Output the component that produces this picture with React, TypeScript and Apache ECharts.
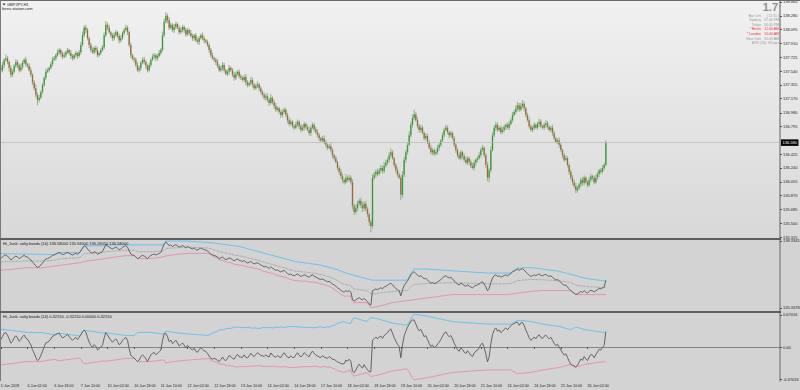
import React, { useEffect, useRef } from 'react';
import * as echarts from 'echarts';

const timeLabels = ["5 Jun 2019","6 Jun 02:00","6 Jun 18:00","7 Jun 10:00","10 Jun 02:00","10 Jun 18:00","11 Jun 10:00","12 Jun 02:00","12 Jun 18:00","13 Jun 10:00","14 Jun 02:00","14 Jun 18:00","17 Jun 10:00","18 Jun 02:00","18 Jun 18:00","19 Jun 10:00","20 Jun 02:00","20 Jun 18:00","21 Jun 10:00","24 Jun 02:00","24 Jun 18:00","25 Jun 10:00","26 Jun 02:00"];
const priceTickLabels = ["138.465","138.280","138.095","137.910","137.725","137.540","137.355","137.170","136.980","136.795","136.425","136.240","136.055","135.870","135.685","135.500","135.315"];
const pane2TickLabels = ["138.3341","135.3378"];
const pane3TickLabels = ["0.67016","0.00","-0.67016"];
const pane2Title = "Hi_Junk: volty bands (14) 136.58000 135.94000 136.26050 136.58000";
const pane3Title = "Hi_Junk: volty bands (14) 0.32150 -0.32150 0.00000 0.32150";
const infoRows = [["Bar Left","[ 11:15 ]"],["Sydney","07:40 PM"],["Tokyo","06:40 PM"],["* Berlin","11:40 AM"],["* London","10:40 AM"],["New York","05:40 AM"]];
const infoRed = [false,false,false,true,true,false];
const atrText = "ATR (20): 39 pips";
const spreadText = "1.7";
const totalSlots = 468;
const firstOpen = 137.58;

const closes = [
137.55,137.62,137.69,137.71,137.66,137.58,137.49,137.53,137.61,137.66,137.62,137.55,137.59,137.65,137.69,137.63,
137.61,137.55,137.49,137.39,137.31,137.22,137.15,137.18,137.26,137.35,137.45,137.53,137.55,137.58,137.63,137.69,
137.71,137.75,137.79,137.82,137.77,137.73,137.75,137.79,137.82,137.78,137.74,137.71,137.75,137.78,137.74,137.79,
137.89,138.02,138.12,138.09,137.98,137.89,137.82,137.79,137.85,137.82,137.75,137.78,137.82,137.86,138.02,138.16,
138.12,138.06,138.02,137.98,138.02,138.06,138.01,137.95,137.98,138.05,138.09,138.12,138.06,137.89,137.75,137.71,
137.69,137.62,137.55,137.58,137.65,137.69,137.66,137.61,137.55,137.62,137.69,137.73,137.75,137.71,137.74,137.78,
137.82,138.02,138.20,138.28,138.22,138.12,138.16,138.09,138.13,138.17,138.12,138.06,138.09,138.13,138.09,138.03,
138.09,138.05,138.01,137.98,138.02,137.95,137.93,137.98,138.02,137.98,137.95,137.93,137.89,137.82,137.75,137.71,
137.69,137.66,137.61,137.55,137.58,137.62,137.55,137.50,137.53,137.58,137.55,137.49,137.45,137.50,137.53,137.47,
137.45,137.42,137.46,137.39,137.35,137.38,137.42,137.36,137.31,137.34,137.36,137.31,137.26,137.22,137.18,137.20,
137.15,137.11,137.18,137.12,137.07,137.02,137.04,136.99,136.95,136.99,137.02,136.95,136.88,136.83,136.86,136.80,
136.78,136.82,136.86,136.80,136.75,136.78,136.83,136.79,136.75,136.71,136.78,136.82,136.76,136.72,136.68,136.64,
136.61,136.64,136.59,136.55,136.51,136.53,136.48,136.41,136.37,136.32,136.24,136.19,136.13,136.08,136.05,136.11,
136.08,136.11,136.05,135.73,135.65,135.70,135.76,135.80,135.74,135.70,135.76,135.69,135.62,135.52,135.46,136.11,
136.15,136.19,136.16,136.21,136.24,136.20,136.27,136.31,136.35,136.41,136.45,136.37,136.28,136.21,136.15,136.11,
135.88,136.15,136.35,136.45,136.55,136.68,136.82,136.91,136.96,136.88,136.80,136.75,136.78,136.71,136.64,136.67,
136.59,136.51,136.45,136.48,136.43,136.45,136.51,136.55,136.61,136.68,136.75,136.78,136.72,136.68,136.71,136.64,
136.55,136.48,136.41,136.37,136.45,136.40,136.35,136.31,136.37,136.32,136.27,136.24,136.31,136.35,136.37,136.41,
136.48,136.51,136.41,136.28,136.11,136.21,136.48,136.68,136.78,136.82,136.75,136.78,136.72,136.75,136.79,136.82,
136.78,136.83,136.88,136.95,136.99,137.04,137.08,137.02,137.07,137.10,137.04,136.95,136.88,136.80,136.75,136.78,
136.82,136.78,136.83,136.86,136.80,136.78,136.82,136.84,136.79,136.75,136.78,136.71,136.64,136.59,136.61,136.55,
136.48,136.41,136.35,136.37,136.28,136.19,136.11,136.05,136.00,135.94,135.97,136.02,136.08,136.04,136.11,136.05,
136.01,136.08,136.13,136.11,136.05,136.11,136.16,136.21,136.19,136.24,136.28,136.58
];

const wickUp = [
3,4,2,5,3,2,4,3,2,4,3,2,5,3,2,4,
2,3,4,2,3,5,3,4,2,3,2,4,3,2,3,4,
3,2,4,3,2,3,4,2,3,2,4,3,2,3,2,3,
4,5,3,4,3,2,3,4,2,3,4,2,3,3,4,5,
3,4,2,3,4,3,2,3,4,2,3,4,3,2,3,2,
2,3,4,3,2,3,4,3,2,3,2,4,3,2,3,4,
3,5,4,5,3,4,3,2,4,3,2,3,4,3,2,3,
3,2,4,3,2,3,4,3,2,4,3,2,3,2,3,4,
2,3,4,2,3,4,3,2,3,4,2,3,4,3,2,3,
3,2,3,4,3,2,4,3,2,3,4,2,3,2,3,4,
4,3,5,2,3,4,3,2,3,4,3,2,3,4,3,2,
3,4,3,2,3,4,3,2,3,4,3,3,2,3,4,3,
2,3,4,3,2,3,4,3,2,3,2,3,4,3,2,5,
3,4,3,4,3,5,4,3,4,5,3,4,3,2,3,5,
4,3,4,3,4,3,5,4,3,4,5,3,2,3,4,3,
3,5,4,3,4,5,4,5,6,3,4,3,4,3,2,4,
3,2,4,3,2,3,4,3,2,4,3,4,3,2,3,2,
3,2,3,4,3,2,3,4,3,2,3,4,3,2,3,4,
3,4,2,3,4,3,5,4,3,4,3,2,3,4,3,2,
3,4,3,4,3,4,5,3,4,5,3,2,3,4,3,2,
3,2,3,4,3,2,3,4,3,2,3,4,3,2,3,4,
3,2,3,4,3,2,3,4,3,4,3,2,3,4,3,2,
3,4,3,2,3,4,3,2,3,4,3,3
];

const wickDn = [
2,3,4,2,3,5,4,3,2,3,4,3,2,3,2,3,
3,2,3,4,3,4,7,3,2,3,2,3,2,3,2,3,
2,3,2,3,4,3,2,3,2,3,4,3,2,3,4,2,
3,2,3,4,3,4,3,2,3,4,3,2,3,2,3,2,
3,2,3,4,3,2,3,4,3,2,3,2,4,3,4,3,
4,3,2,3,4,2,3,4,3,2,3,2,3,4,3,2,
3,2,3,2,4,3,2,3,4,3,2,3,2,3,4,3,
2,3,2,4,3,2,3,4,2,3,4,2,3,4,3,2,
3,4,3,2,3,4,3,2,3,4,2,3,4,3,2,3,
3,2,3,4,3,2,3,4,3,2,3,4,3,2,3,4,
3,4,2,3,4,3,2,3,4,3,2,3,4,3,2,3,
3,2,3,4,3,2,4,3,2,3,4,2,3,2,3,4,
3,2,3,4,3,2,3,4,3,2,3,4,3,4,3,2,
3,2,3,5,4,3,4,3,4,5,4,3,4,5,8,3,
3,4,3,2,3,4,3,2,3,4,3,2,3,4,3,2,
7,4,3,4,3,2,3,4,3,2,3,4,3,2,3,2,
3,2,3,4,3,2,3,4,3,2,3,2,3,4,3,2,
3,4,3,2,3,4,3,2,3,4,3,2,3,4,3,2,
3,2,3,4,5,6,3,2,3,4,3,2,3,2,3,4,
2,3,2,3,2,3,4,3,2,3,4,3,2,3,2,3,
3,2,3,4,3,2,3,4,3,2,3,4,3,2,3,4,
3,4,3,2,3,4,3,4,3,4,3,2,3,4,3,2,
3,2,3,4,3,2,3,4,3,2,3,2
];

const upperBand = [
137.77,137.77,137.77,137.77,137.77,137.76,137.76,137.76,137.76,137.76,137.76,137.76,137.75,137.75,137.75,137.75,
137.75,137.75,137.75,137.75,137.74,137.74,137.74,137.74,137.74,137.74,137.74,137.73,137.73,137.73,137.73,137.73,
137.73,137.75,137.79,137.82,137.82,137.82,137.82,137.82,137.82,137.82,137.82,137.82,137.82,137.82,137.82,137.82,
137.89,138.02,138.12,138.12,138.12,138.12,138.12,138.12,138.12,138.12,138.12,138.12,138.12,138.12,138.12,138.16,
138.16,138.16,138.16,138.16,138.16,138.16,138.16,138.16,138.16,138.16,138.16,138.16,138.16,138.16,138.16,138.16,
138.16,138.16,138.16,138.16,138.16,138.16,138.16,138.16,138.16,138.16,138.16,138.16,138.16,138.16,138.16,138.16,
138.16,138.16,138.20,138.33,138.33,138.33,138.33,138.33,138.33,138.33,138.33,138.33,138.33,138.33,138.33,138.33,
138.33,138.32,138.32,138.31,138.31,138.30,138.30,138.29,138.29,138.28,138.28,138.27,138.27,138.26,138.26,138.25,
138.24,138.23,138.22,138.21,138.20,138.19,138.18,138.17,138.16,138.15,138.14,138.13,138.12,138.11,138.10,138.09,
138.07,138.05,138.03,138.01,137.99,137.97,137.95,137.93,137.91,137.89,137.87,137.85,137.83,137.81,137.79,137.77,
137.75,137.73,137.71,137.69,137.67,137.65,137.63,137.61,137.59,137.57,137.55,137.53,137.51,137.49,137.47,137.45,
137.43,137.41,137.40,137.39,137.38,137.37,137.36,137.35,137.34,137.33,137.32,137.31,137.30,137.29,137.28,137.27,
137.25,137.23,137.21,137.19,137.17,137.15,137.13,137.11,137.09,137.07,137.05,137.02,136.99,136.96,136.93,136.90,
136.88,136.86,136.84,136.82,136.80,136.78,136.76,136.74,136.72,136.70,136.68,136.66,136.64,136.62,136.60,136.58,
136.58,136.58,136.58,136.58,136.58,136.58,136.58,136.58,136.58,136.58,136.58,136.58,136.58,136.58,136.58,136.58,
136.58,136.58,136.58,136.58,136.60,136.73,136.87,136.99,137.08,137.08,137.08,137.08,137.08,137.08,137.08,137.08,
137.08,137.07,137.07,137.06,137.06,137.05,137.05,137.04,137.04,137.03,137.03,137.02,137.02,137.01,137.01,137.00,
137.00,136.99,136.99,136.98,136.98,136.97,136.97,136.96,136.96,136.95,136.95,136.94,136.94,136.93,136.93,136.92,
136.92,136.92,136.91,136.91,136.90,136.90,136.90,136.90,136.90,136.90,136.90,136.90,136.90,136.90,136.90,136.90,
136.90,136.90,136.91,136.98,137.02,137.07,137.12,137.12,137.12,137.14,137.14,137.14,137.14,137.14,137.14,137.14,
137.13,137.12,137.11,137.10,137.09,137.08,137.07,137.06,137.05,137.04,137.03,137.02,137.01,137.00,136.99,136.98,
136.96,136.94,136.92,136.90,136.88,136.86,136.84,136.82,136.80,136.78,136.76,136.74,136.72,136.70,136.68,136.66,
136.65,136.64,136.63,136.62,136.61,136.60,136.59,136.58,136.57,136.56,136.55,136.58
];

const lowerBand = [
137.02,137.03,137.04,137.05,137.06,137.06,137.06,137.07,137.08,137.09,137.10,137.10,137.11,137.12,137.13,137.14,
137.14,137.14,137.14,137.14,137.14,137.14,137.13,137.13,137.13,137.14,137.15,137.16,137.17,137.18,137.19,137.20,
137.21,137.22,137.23,137.24,137.25,137.26,137.27,137.28,137.29,137.30,137.31,137.32,137.33,137.34,137.35,137.36,
137.37,137.39,137.41,137.43,137.44,137.45,137.46,137.47,137.48,137.49,137.50,137.51,137.52,137.53,137.54,137.56,
137.57,137.58,137.59,137.60,137.61,137.62,137.63,137.64,137.65,137.66,137.67,137.68,137.68,137.68,137.68,137.68,
137.68,137.62,137.55,137.55,137.55,137.55,137.55,137.55,137.55,137.55,137.55,137.56,137.57,137.58,137.59,137.60,
137.61,137.62,137.64,137.66,137.68,137.69,137.70,137.71,137.72,137.73,137.74,137.75,137.75,137.76,137.77,137.77,
137.78,137.78,137.78,137.78,137.78,137.78,137.78,137.78,137.78,137.78,137.78,137.78,137.78,137.76,137.72,137.67,
137.62,137.60,137.56,137.50,137.48,137.47,137.45,137.40,137.38,137.37,137.36,137.33,137.29,137.28,137.27,137.26,
137.25,137.23,137.22,137.20,137.17,137.16,137.15,137.14,137.11,137.10,137.09,137.07,137.04,137.00,136.97,136.96,
136.94,136.91,136.90,136.89,136.86,136.82,136.81,136.78,136.75,136.74,136.73,136.71,136.67,136.63,136.62,136.59,
136.57,136.56,136.56,136.55,136.54,136.54,136.54,136.53,136.52,136.50,136.50,136.50,136.49,136.48,136.46,136.43,
136.41,136.41,136.39,136.36,136.32,136.31,136.28,136.22,136.18,136.13,136.06,136.01,135.96,135.91,135.87,135.87,
135.87,135.87,135.86,135.65,135.58,135.58,135.58,135.58,135.58,135.58,135.58,135.58,135.55,135.46,135.36,135.36,
135.37,135.38,135.40,135.42,135.44,135.46,135.48,135.50,135.52,135.54,135.56,135.58,135.59,135.60,135.61,135.62,
135.63,135.64,135.65,135.66,135.67,135.68,135.69,135.70,135.71,135.72,135.73,135.74,135.75,135.76,135.77,135.78,
135.79,135.80,135.81,135.82,135.83,135.84,135.85,135.86,135.87,135.88,135.89,135.90,135.91,135.92,135.93,135.94,
135.94,135.94,135.94,135.94,135.94,135.94,135.94,135.94,135.94,135.94,135.94,135.94,135.94,135.94,135.94,135.94,
135.94,135.94,135.94,135.94,135.94,135.94,135.94,135.94,135.94,135.94,135.94,135.94,135.94,135.94,135.94,135.94,
135.94,135.95,135.96,135.97,135.98,135.99,136.00,136.01,136.02,136.03,136.04,136.05,136.06,136.07,136.08,136.09,
136.09,136.10,136.10,136.11,136.11,136.12,136.12,136.12,136.12,136.12,136.12,136.12,136.12,136.12,136.12,136.12,
136.12,136.12,136.12,136.12,136.12,136.12,136.11,136.05,136.00,135.94,135.94,135.94,135.94,135.94,135.94,135.94,
135.94,135.94,135.94,135.94,135.94,135.94,135.94,135.94,135.94,135.94,135.94,135.94
];

const FONT = '"Liberation Sans", Arial, sans-serif';

export default function App() {
  const ref = useRef<HTMLDivElement>(null);
  useEffect(() => {
    const chart = echarts.init(ref.current as HTMLDivElement, null, { renderer: 'svg' });
    const n = closes.length;
    const cats = Array.from({ length: totalSlots }, (_, i) => String(i));
    const ohlc = closes.map((c, i) => {
      const o = i === 0 ? firstOpen : closes[i - 1];
      const hi = Math.max(o, c) + wickUp[i] / 100;
      const lo = Math.min(o, c) - wickDn[i] / 100;
      return [i, o, c, lo, hi];
    });
    const mid = upperBand.map((u, i) => (u + lowerBand[i]) / 2);
    const osc = closes.map((c, i) => c - mid[i]);
    const up3 = upperBand.map((u, i) => u - mid[i]);
    const dn3 = lowerBand.map((l, i) => l - mid[i]);
    const lastClose = closes[n - 1];

    const shown = (i: number) => i % 16 === 0 && i / 16 < timeLabels.length;
    const lookup = (labels: string[], v: number) => {
      const s = labels.find((t) => Math.abs(Number(t) - v) < 1e-6);
      return s !== undefined ? s : '';
    };

    const xAxis = [0, 1, 2].map((k) => ({
      type: 'category',
      gridIndex: k,
      data: cats,
      boundaryGap: true,
      axisLine: { show: k === 2, lineStyle: { color: '#8a8a8a', width: 1 } },
      axisTick: { show: k === 2, interval: (i: number) => shown(i), alignWithLabel: true, length: 2, lineStyle: { color: '#333', width: 0.8 } },
      axisLabel: {
        show: k === 2,
        interval: (i: number) => shown(i),
        formatter: (v: string) => { const i = Number(v); return shown(i) ? timeLabels[i / 16] : ''; },
        align: 'left',
        fontSize: 3.7,
        fontFamily: FONT,
        color: '#222',
        margin: 2.5,
      },
      splitLine: { show: false },
    }));

    const yCommon = (labels: string[]) => ({
      type: 'value',
      position: 'right',
      axisLine: { show: true, lineStyle: { color: '#8a8a8a', width: 1.5 } },
      axisTick: { show: true, customValues: labels.map(Number), length: 2, lineStyle: { color: '#333', width: 0.8 } },
      axisLabel: { customValues: labels.map(Number), formatter: (v: number) => lookup(labels, v), fontSize: 4, fontFamily: FONT, color: '#222', margin: 3 },
      splitLine: { show: false },
    });

    const renderCandle = (params: any, api: any) => {
      const i = api.value(0), o = api.value(1), c = api.value(2), l = api.value(3), h = api.value(4);
      const pO = api.coord([i, o]);
      const pC = api.coord([i, c]);
      const pL = api.coord([i, l]);
      const pH = api.coord([i, h]);
      const x = pO[0];
      const top = Math.min(pO[1], pC[1]);
      const bh = Math.max(Math.abs(pO[1] - pC[1]), 0.7);
      return {
        type: 'group',
        children: [
          { type: 'line', shape: { x1: x, y1: pH[1], x2: x, y2: pL[1] }, style: { stroke: '#9db898', lineWidth: 1.2 } },
          { type: 'rect', shape: { x: x - 0.65, y: top, width: 1.3, height: bh }, style: { fill: c >= o ? '#3a9a3a' : '#9b6a3a' } },
        ],
      };
    };

    const lineS = (data: number[], xi: number, color: string, width: number, type = 'solid', z = 2) => ({
      type: 'line',
      xAxisIndex: xi,
      yAxisIndex: xi,
      data,
      showSymbol: false,
      symbol: 'none',
      silent: true,
      z,
      lineStyle: { color, width, type },
    });

    const txt = (text: string, x: number, y: number, opts: any = {}) => ({
      type: 'text',
      x,
      y,
      z: 100,
      silent: true,
      style: { text, font: opts.font || `4px ${FONT}`, fill: opts.fill || '#222', textAlign: opts.align || 'left', textVerticalAlign: 'middle' },
    });

    const infoGraphics: any[] = [];
    const infoFont = `3.5px ${FONT}`;
    infoRows.forEach((r, k) => {
      const y = 15.6 + k * 4.6;
      const fill = infoRed[k] ? '#e8342c' : '#9a9a9a';
      infoGraphics.push(txt(r[0], 761, y, { align: 'right', fill, font: infoFont }));
      infoGraphics.push(txt(r[1], 779, y, { align: 'right', fill, font: infoFont }));
    });
    infoGraphics.push(txt(atrText, 779, 15.6 + 6 * 4.6, { align: 'right', fill: '#9a9a9a', font: infoFont }));

    const option: any = {
      animation: false,
      backgroundColor: '#d3d3d3',
      textStyle: { fontFamily: FONT },
      grid: [
        { left: 0, top: 0, width: 780, height: 238, outerBoundsMode: 'none' },
        { left: 0, top: 240, width: 780, height: 71, outerBoundsMode: 'none' },
        { left: 0, top: 313, width: 780, height: 68, outerBoundsMode: 'none' },
      ],
      xAxis,
      yAxis: [
        { ...yCommon(priceTickLabels), gridIndex: 0, min: 135.3016, max: 138.4918 },
        { ...yCommon(pane2TickLabels), gridIndex: 1, min: 135.2036, max: 138.3788 },
        { ...yCommon(pane3TickLabels), gridIndex: 2, min: -0.712, max: 0.712 },
      ],
      graphic: [
        { type: 'rect', z: -10, silent: true, shape: { x: 0, y: 0, width: 800, height: 239 }, style: { fill: new echarts.graphic.LinearGradient(0, 0, 0, 1, [{ offset: 0, color: '#f1f1f1' }, { offset: 1, color: '#d8d8d8' }]) } },
        { type: 'rect', z: 100, silent: true, shape: { x: 0, y: 0, width: 800, height: 1 }, style: { fill: '#6a6a6a' } },
        { type: 'rect', z: 100, silent: true, shape: { x: 0, y: 0, width: 1, height: 381 }, style: { fill: '#7a7a7a' } },
        { type: 'rect', z: 100, silent: true, shape: { x: 0, y: 238, width: 781, height: 2 }, style: { fill: '#5e5e5e' } },
        { type: 'rect', z: 100, silent: true, shape: { x: 0, y: 311, width: 781, height: 2 }, style: { fill: '#5e5e5e' } },
        { type: 'polygon', z: 100, silent: true, shape: { points: [[2.5, 3.5], [5.5, 3.5], [4, 5.5]] }, style: { fill: '#333' } },
        txt('GBPJPY,H1', 7, 4.6, { fill: '#222' }),
        txt('forex-station.com', 2, 8.3, { fill: '#222' }),
        txt(pane2Title, 3, 243, { fill: '#111' }),
        txt(pane3Title, 3, 316.5, { fill: '#111' }),
        { type: 'text', z: 100, silent: true, x: 778, y: 12.5, style: { text: spreadText, font: `bold 11px ${FONT}`, fill: '#8f8f8f', textAlign: 'right', textVerticalAlign: 'bottom' } },
        ...infoGraphics,
      ],
      series: [
        {
          type: 'custom',
          xAxisIndex: 0,
          yAxisIndex: 0,
          data: ohlc,
          encode: { x: 0, y: [1, 2, 3, 4] },
          renderItem: renderCandle,
          clip: true,
          silent: true,
          z: 3,
        },
        {
          type: 'line',
          xAxisIndex: 0,
          yAxisIndex: 0,
          data: closes,
          showSymbol: false,
          symbol: 'none',
          silent: true,
          z: 1,
          lineStyle: { opacity: 0, width: 0 },
          markLine: {
            silent: true,
            symbol: ['none', 'none'],
            data: [{ yAxis: lastClose }],
            lineStyle: { color: '#bdbdbd', width: 0.8, type: 'solid' },
            label: { show: true, position: 'end', formatter: () => lastClose.toFixed(3), backgroundColor: '#000', color: '#fff', fontSize: 4, fontFamily: FONT, padding: [1.5, 1.5, 1, 1.5], distance: 1 },
          },
        },
        lineS(mid, 1, '#7d7d7d', 0.7, 'dotted', 2),
        lineS(upperBand, 1, '#56c2ee', 0.9, 'solid', 3),
        lineS(lowerBand, 1, '#e88aa6', 0.9, 'solid', 3),
        lineS(closes, 1, '#585858', 0.9, 'solid', 4),
        lineS(up3, 2, '#56c2ee', 0.9, 'solid', 3),
        lineS(dn3, 2, '#e88aa6', 0.9, 'solid', 3),
        {
          ...lineS(osc, 2, '#585858', 0.9, 'solid', 4),
          markLine: {
            silent: true,
            symbol: ['none', 'none'],
            data: [{ yAxis: 0 }],
            lineStyle: { color: '#7d7d7d', width: 0.7, type: 'dotted' },
            label: { show: false },
          },
        },
      ],
    };
    chart.setOption(option);
    return () => chart.dispose();
  }, []);
  return <div ref={ref} style={{ position: 'fixed', left: 0, top: 0, width: 800, height: 390 }} />;
}
